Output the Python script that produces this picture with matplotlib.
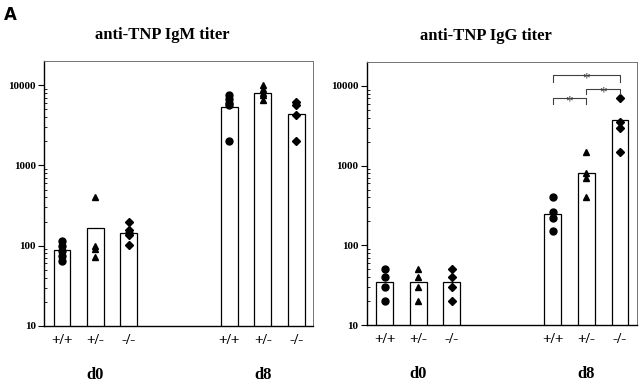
import numpy as np
import matplotlib
matplotlib.use("Agg")
from matplotlib import pyplot as plt

# bar positions: d0 group then d8 group
genotypes = ['+/+', '+/-', '-/-', '+/+', '+/-', '-/-']
xpos = [0, 1, 2, 5, 6, 7]
days = ['d0', 'd8']
day_x = [1, 6]
markers = ['o', '^', 'D', 'o', '^', 'D']
msizes = [5, 5, 3.6, 5, 5, 3.6]

# anti-TNP IgM titer
igm_mean = [88, 165, 145, 5300, 8100, 4400]
igm_pts = [
    [115, 100, 87, 75, 65],
    [400, 100, 90, 72],
    [200, 158, 145, 135, 102],
    [7500, 6800, 6000, 5600, 2000],
    [10000, 9000, 8000, 7500, 6500],
    [6200, 5600, 4200, 2000],
]

# anti-TNP IgG titer
igg_mean = [35, 35, 35, 250, 800, 3700]
igg_pts = [
    [50, 40, 30, 20],
    [50, 40, 30, 20],
    [50, 40, 30, 20],
    [400, 260, 220, 150],
    [1500, 800, 700, 400],
    [7000, 3500, 3000, 1500],
]

# significance brackets for IgG d8: (x from, x to, level, leg end)
sig = [(5, 7, 13750, 11250), (6, 7, 9200, 7980), (5, 6, 7110, 5990)]

plt.rcParams['font.family'] = ['Liberation Serif', 'DejaVu Serif']

fig = plt.figure(figsize=(6.4, 3.82), dpi=100)
ax1 = fig.add_axes([0.069, 0.147, 0.420, 0.693])
ax2 = fig.add_axes([0.573, 0.149, 0.422, 0.689])


def panel(ax, title, means, pts):
    ax.bar(xpos, means, width=0.5, bottom=0, color='white',
           edgecolor='black', linewidth=0.9, zorder=2)
    for x, p, m, s in zip(xpos, pts, markers, msizes):
        ax.plot([x] * len(p), p, linestyle='none', marker=m, ms=s,
                color='black', zorder=3)
    ax.set_yscale('log')
    ax.set_ylim(10, 20000)
    ax.set_xlim(-0.53, 7.5)
    ax.set_yticks([10, 100, 1000, 10000])
    ax.set_yticklabels(['10', '100', '1000', '10000'], fontsize=8,
                       fontweight='bold')
    ax.tick_params(axis='y', which='major', direction='out', length=4,
                   width=0.8, pad=2)
    ax.tick_params(axis='y', which='minor', direction='in', length=2,
                   width=0.6)
    ax.set_xticks(xpos)
    ax.set_xticklabels(genotypes, fontsize=11, fontweight='bold')
    ax.tick_params(axis='x', length=0, pad=6)
    for sp in ['top', 'right']:
        ax.spines[sp].set_color('0.45')
        ax.spines[sp].set_linewidth(0.7)
    for sp in ['left', 'bottom']:
        ax.spines[sp].set_linewidth(1.0)
    for x, d in zip(day_x, days):
        ax.text(x, -0.185, d, transform=ax.get_xaxis_transform(),
                ha='center', va='center', fontsize=12, fontweight='bold')
    ax.text(0.44, 1.10, title, transform=ax.transAxes, ha='center',
            va='center', fontsize=12, fontweight='bold')


panel(ax1, 'anti-TNP IgM titer', igm_mean, igm_pts)
panel(ax2, 'anti-TNP IgG titer', igg_mean, igg_pts)

for x1, x2, y, y0 in sig:
    ax2.plot([x1, x1, x2, x2], [y0, y, y, y0], color='0.25', lw=0.8,
             zorder=4)
    ax2.text((x1 + x2) / 2, y * 0.8, '*', ha='center', va='baseline',
             fontsize=11, color='0.25')

fig.text(0.006, 0.985, 'A', ha='left', va='top', fontsize=12,
         fontweight='bold', family='DejaVu Sans')

plt.savefig('out.png', dpi=100)
